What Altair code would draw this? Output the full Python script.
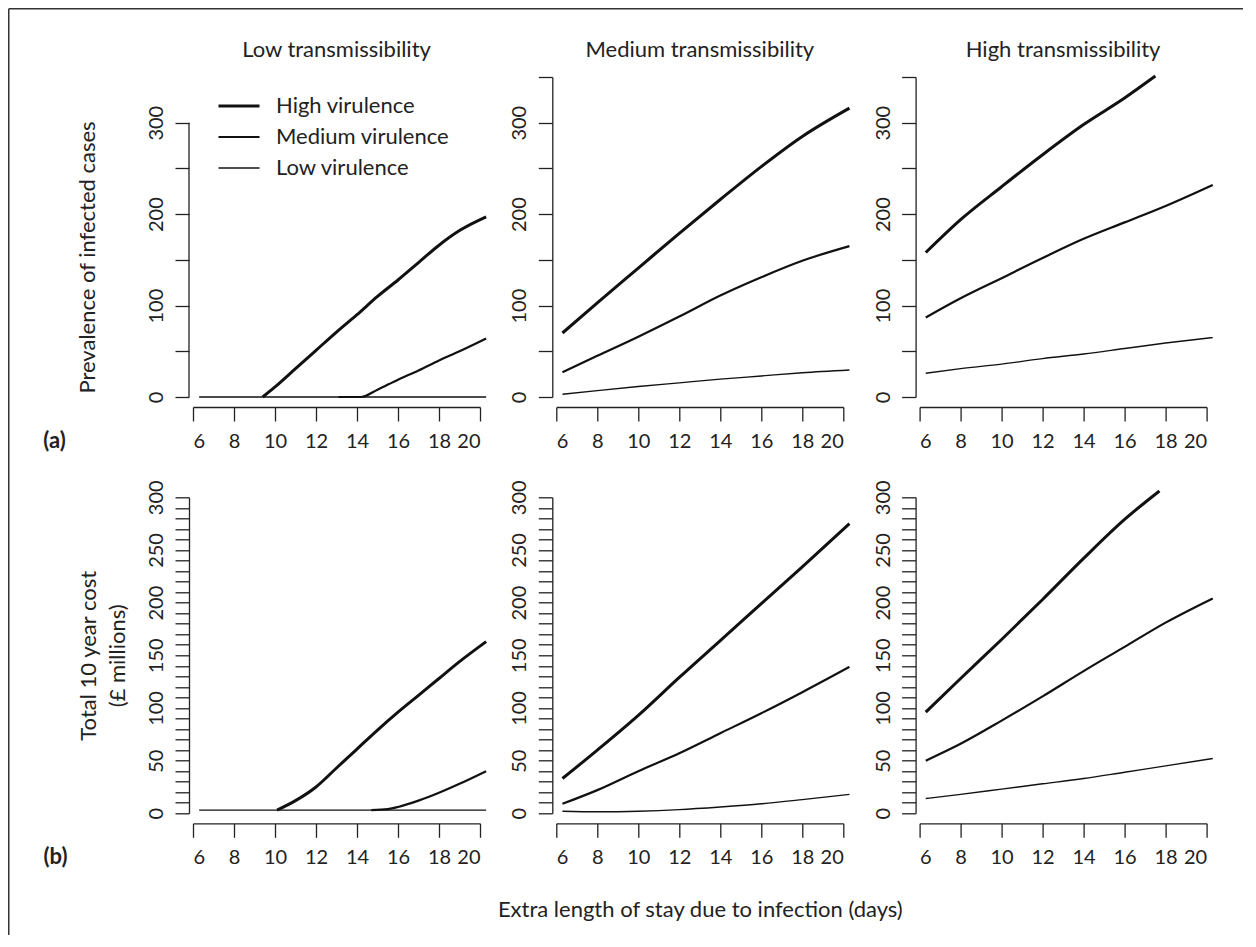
import altair as alt
import pandas as pd

FONT = "Lato"
INK = "#222222"
LINE = "#111111"

TRANS = ["Low transmissibility", "Medium transmissibility", "High transmissibility"]
VIR = ["High virulence", "Medium virulence", "Low virulence"]
WIDTHS = [3.0, 1.4, 1.0]

X_STD = [6.3, 8, 10, 12, 14, 16, 18, 20.3]
X_TICKS = [6, 8, 10, 12, 14, 16, 18, 20]

# (a) Prevalence of infected cases
A_LOW_HIGH_X = [9.4, 10, 11, 12, 13, 14, 15, 16, 17, 18, 19, 20.3]
A_LOW_HIGH_Y = [0, 11, 31, 51, 71, 90, 110, 128, 147, 166, 182, 197]
A_LOW_MED_X = [13.1, 14.2, 15, 16, 17, 18, 19, 20.3]
A_LOW_MED_Y = [0, 0, 8, 19, 29, 40, 50, 64]
A_LOW_LOW_X = [6.3, 10, 14, 18, 20.3]
A_LOW_LOW_Y = [0, 0, 0, 0, 0]

A_MED_HIGH_Y = [70, 103, 141, 179, 216, 252, 285, 316]
A_MED_MED_Y = [27, 45, 66, 88, 111, 131, 149, 165]
A_MED_LOW_Y = [3, 7, 11.5, 15.5, 19.5, 23, 26.5, 29.5]

A_HIGH_HIGH_X = [6.3, 8, 10, 12, 14, 16, 17.5]
A_HIGH_HIGH_Y = [158, 194, 230, 265, 298, 327, 351]
A_HIGH_MED_Y = [87, 108, 130, 152, 173, 191, 209, 232]
A_HIGH_LOW_Y = [26, 31, 36, 42, 47, 53, 59, 65]

# (b) Total 10 year cost (GBP millions)
B_LOW_HIGH_X = [10.1, 11, 12, 13, 14, 15, 16, 17, 18, 19, 20.3]
B_LOW_HIGH_Y = [3, 12, 25, 43, 61, 79, 96, 112, 128, 144, 163]
B_LOW_MED_X = [14.7, 15.5, 16, 17, 18, 19, 20.3]
B_LOW_MED_Y = [3, 4, 6, 12, 19.5, 28, 40]
B_LOW_LOW_X = [6.3, 10, 14, 18, 20.3]
B_LOW_LOW_Y = [3, 3, 3, 3, 3]

B_MED_HIGH_Y = [33, 60, 93, 129, 164, 199, 234, 275]
B_MED_MED_Y = [9, 22, 40, 57, 76, 95, 115, 139]
B_MED_LOW_Y = [2, 1.5, 2, 3.5, 6, 9, 13, 18]

B_HIGH_HIGH_X = [6.3, 8, 10, 12, 14, 16, 17.7]
B_HIGH_HIGH_Y = [96, 128, 165, 203, 242, 279, 306]
B_HIGH_MED_Y = [50, 66, 88, 111, 135, 158, 181, 204]
B_HIGH_LOW_Y = [14, 18, 23, 28, 33, 39, 45, 52]

Y_TICKS_A = [0, 50, 100, 150, 200, 250, 300, 350]
Y_TICKS_A1 = [0, 50, 100, 150, 200, 250, 300]
Y_TICKS_B = list(range(0, 301, 10))


def frame(series):
    rows = []
    for v, xs, ys in series:
        for x, y in zip(xs, ys):
            rows.append({"x": x, "y": y, "virulence": v})
    return pd.DataFrame(rows)


DATA = [
    [
        frame([(VIR[0], A_LOW_HIGH_X, A_LOW_HIGH_Y), (VIR[1], A_LOW_MED_X, A_LOW_MED_Y), (VIR[2], A_LOW_LOW_X, A_LOW_LOW_Y)]),
        frame([(VIR[0], X_STD, A_MED_HIGH_Y), (VIR[1], X_STD, A_MED_MED_Y), (VIR[2], X_STD, A_MED_LOW_Y)]),
        frame([(VIR[0], A_HIGH_HIGH_X, A_HIGH_HIGH_Y), (VIR[1], X_STD, A_HIGH_MED_Y), (VIR[2], X_STD, A_HIGH_LOW_Y)]),
    ],
    [
        frame([(VIR[0], B_LOW_HIGH_X, B_LOW_HIGH_Y), (VIR[1], B_LOW_MED_X, B_LOW_MED_Y), (VIR[2], B_LOW_LOW_X, B_LOW_LOW_Y)]),
        frame([(VIR[0], X_STD, B_MED_HIGH_Y), (VIR[1], X_STD, B_MED_MED_Y), (VIR[2], X_STD, B_MED_LOW_Y)]),
        frame([(VIR[0], B_HIGH_HIGH_X, B_HIGH_HIGH_Y), (VIR[1], X_STD, B_HIGH_MED_Y), (VIR[2], X_STD, B_HIGH_LOW_Y)]),
    ],
]

W = 287
H_A = 320
H_B = 316
DUMMY = pd.DataFrame({"k": [0]})


def panel(r, c):
    df = DATA[r][c]
    # x axis
    xkw = dict(values=X_TICKS, offset=10, tickSize=14, labelPadding=10.5, labelFontSize=20)
    if r == 0 and c == 0:
        xkw.update(title="(a)", titleFontWeight="bold", titleX=-139, titleY=40,
                   titleBaseline="alphabetic", titleAlign="center", titleFontSize=22)
    elif r == 1 and c == 0:
        xkw.update(title="(b)", titleFontWeight="bold", titleX=-138, titleY=40,
                   titleBaseline="alphabetic", titleAlign="center", titleFontSize=22)
    elif r == 1 and c == 1:
        xkw.update(title="Extra length of stay due to infection (days)", titleY=93,
                   titleBaseline="alphabetic", titleFontSize=22)
    else:
        xkw.update(title=None)
    x = alt.X("x:Q", scale=alt.Scale(domain=[6, 20], nice=False, zero=False), axis=alt.Axis(**xkw))

    # y axis
    ykw = dict(offset=4, tickSize=14, labelAngle=270, labelAlign="center",
               labelBaseline="alphabetic", labelPadding=12.5, labelFontSize=20)
    if r == 0:
        ykw.update(values=Y_TICKS_A1 if c == 0 else Y_TICKS_A,
                   labelExpr="datum.value % 100 === 0 ? datum.label : ''")
        ydom = [0, 350]
        h = H_A
    else:
        ykw.update(values=Y_TICKS_B, labelExpr="datum.value % 50 === 0 ? datum.label : ''")
        ydom = [0, 300]
        h = H_B
    if r == 0 and c == 0:
        ykw.update(domain=False, title="Prevalence of infected cases", titleAngle=270,
                   titleX=-94.5, titleY=180, titleBaseline="alphabetic", titleAlign="center",
                   titleFontSize=22)
    elif r == 1 and c == 0:
        ykw.update(title=["Total 10 year cost", "(\u00a3 millions)"], titleAngle=270,
                   titleX=-94, titleBaseline="alphabetic", titleAlign="center",
                   titleLineHeight=29, titleFontSize=22)
    else:
        ykw.update(title=None)
    y = alt.Y("y:Q", scale=alt.Scale(domain=ydom, nice=False, zero=False), axis=alt.Axis(**ykw))

    if r == 0 and c == 0:
        leg = alt.Legend(title=None, orient="none", legendX=24, legendY=17, symbolType="stroke",
                         symbolSize=1681, symbolStrokeColor=LINE, labelFontSize=22, labelFont=FONT,
                         labelColor=INK, labelOffset=15, clipHeight=24, rowPadding=7, labelLimit=400)
    else:
        leg = None
    sw = alt.StrokeWidth("virulence:O", scale=alt.Scale(domain=VIR, range=WIDTHS), legend=leg)

    lines = alt.Chart(df).mark_line(color=LINE, clip=False, strokeCap="butt", interpolate="monotone").encode(
        x=x, y=y, strokeWidth=sw, detail="virulence:N"
    )
    layers = [lines]
    if r == 0:
        layers.append(alt.Chart(pd.DataFrame({"t": [TRANS[c]]})).mark_text(
            font=FONT, fontSize=22, color=INK, align="center", baseline="alphabetic").encode(
            text="t:N", x=alt.value(W / 2), y=alt.value(-20)))
    if r == 0 and c == 0:
        layers.append(alt.Chart(DUMMY).mark_rule(color=INK, strokeWidth=1.3).encode(
            x=alt.value(-4), y=alt.datum(0), y2=alt.datum(300)))
        layers.append(alt.Chart(DUMMY).mark_rule(color="#333333", strokeWidth=1.5).encode(
            x=alt.value(-184.25), x2=alt.value(1050), y=alt.value(-68.25)))
        layers.append(alt.Chart(DUMMY).mark_rule(color="#333333", strokeWidth=1.5).encode(
            x=alt.value(-184.25), y=alt.value(-68.25), y2=alt.value(858)))
    return alt.layer(*layers).properties(width=W, height=h)


charts = [panel(r, c) for r in range(2) for c in range(3)]

chart = alt.concat(
    *charts, columns=3, spacing={"row": 100.3, "column": 76.3}, bounds="flush", padding=0,
    background="white"
).resolve_scale(strokeWidth="independent").resolve_legend(strokeWidth="independent").configure_view(
    stroke=None
).configure_axis(
    labelFont=FONT, titleFont=FONT, labelColor=INK, titleColor=INK, domainColor=INK,
    tickColor=INK, domainWidth=1.3, tickWidth=1.3, grid=False, titleFontWeight="normal"
)

chart.save("out.html", embed_options={"renderer": "svg", "actions": False})
